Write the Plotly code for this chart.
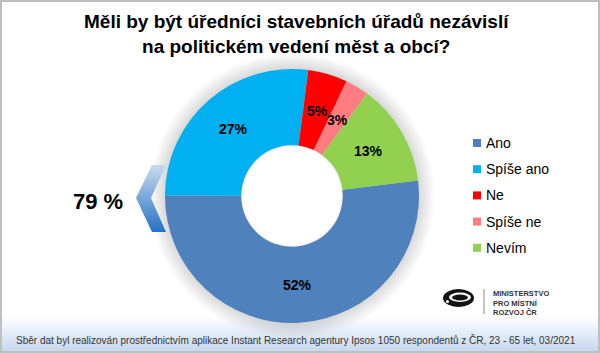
import numpy as np
import plotly.graph_objects as go

# ---------------- data ----------------
title_text = "Měli by být úředníci stavebních úřadů nezávislí<br>na politickém vedení měst a obcí?"
categories = ["Ano", "Spíše ano", "Ne", "Spíše ne", "Nevím"]
values = [52, 27, 5, 3, 13]
colors = ["#4F81BD", "#00B0F0", "#FF0000", "#FF7C80", "#92D050"]
summary_label = "79 %"
footer_text = ("Sběr dat byl realizován prostřednictvím aplikace Instant Research agentury "
               "Ipsos 1050 respondentů z ČR, 23 - 65 let, 03/2021")
logo_lines = ["MINISTERSTVO", "PRO MÍSTNÍ", "ROZVOJ ČR"]

# ---------------- layout constants ----------------
W, H = 600, 353
CX, CY, R = 292, 196, 127
HOLE = 0.40
ROT = 83
FONT = "Arial, 'Liberation Sans', sans-serif"

fig = go.Figure()

# footer gradient band
fig.add_trace(go.Scatter(
    x=[0, W, W, 0, 0], y=[316, 316, H, H, 316], fill="toself", mode="none",
    fillgradient=dict(type="vertical", start=316, stop=H,
                      colorscale=[[0, "#FFFFFF"], [1, "#C3D6EE"]]),
    hoverinfo="skip", showlegend=False))

# soft shadow around donut
t = np.linspace(0, 2 * np.pi, 241)
SR = 143
fig.add_trace(go.Scatter(
    x=CX + SR * np.cos(t), y=CY + SR * np.sin(t), fill="toself", mode="none",
    fillgradient=dict(type="radial", colorscale=[
        [0, "rgba(0,0,0,0)"], [0.34, "rgba(0,0,0,0)"], [0.37, "rgba(0,0,0,0.16)"],
        [0.88, "rgba(0,0,0,0.16)"], [1, "rgba(0,0,0,0)"]]),
    hoverinfo="skip", showlegend=False))

# chevron
chev_x = [152, 166, 151, 166, 152, 136, 152]
chev_y = [165, 165, 198, 232, 232, 198, 165]
fig.add_trace(go.Scatter(
    x=chev_x, y=chev_y, fill="toself", mode="none",
    fillgradient=dict(type="vertical", start=165, stop=232,
                      colorscale=[[0, "#C9DBEF"], [1, "#2572C3"]]),
    hoverinfo="skip", showlegend=False))

# donut
fig.add_trace(go.Pie(
    labels=categories, values=values, sort=False, direction="clockwise",
    rotation=ROT, hole=HOLE, textinfo="none", hoverinfo="skip", showlegend=False,
    marker=dict(colors=colors, line=dict(width=0)),
    domain=dict(x=[(CX - R) / W, (CX + R) / W], y=[(H - CY - R) / H, (H - CY + R) / H])))

annotations = []
shapes = []

# slice labels
total = sum(values)
cum = 0
r_lab = R * (1 + HOLE) / 2
for v in values:
    mid = np.deg2rad(ROT + (cum + v / 2) / total * 360)
    cum += v
    annotations.append(dict(
        x=CX + r_lab * np.sin(mid), y=CY - r_lab * np.cos(mid), xref="x", yref="y",
        text=f"<b>{v}%</b>", showarrow=False, font=dict(family=FONT, size=14, color="#000000")))

# legend
for i, (lab, col) in enumerate(zip(categories, colors)):
    yy = 143 + i * 26.2
    shapes.append(dict(type="rect", xref="x", yref="y", x0=473, x1=481, y0=yy - 4, y1=yy + 4,
                       fillcolor=col, line=dict(width=0)))
    annotations.append(dict(x=484, y=yy, xref="x", yref="y", xanchor="left", yanchor="middle",
                            text=lab, showarrow=False, font=dict(family=FONT, size=14, color="#000000")))

# title
annotations.append(dict(x=296, y=34, xref="x", yref="y", text=f"<b>{title_text}</b>",
                        showarrow=False, font=dict(family=FONT, size=19, color="#000000")))
# summary
annotations.append(dict(x=98, y=201, xref="x", yref="y", text=f"<b>{summary_label}</b>",
                        showarrow=False, font=dict(family=FONT, size=22, color="#000000")))
# footer
annotations.append(dict(x=296, y=340, xref="x", yref="y", text=footer_text,
                        showarrow=False, font=dict(family=FONT, size=10, color="#333333")))
# logo text
for i, ln in enumerate(logo_lines):
    annotations.append(dict(x=491, y=293.5 + i * 9.5, xref="x", yref="y", xanchor="left",
                            text=f"<b>{ln}</b>", showarrow=False,
                            font=dict(family=FONT, size=7.5, color="#333333")))

# logo graphic
shapes += [
    dict(type="circle", xref="x", yref="y", x0=443, x1=474, y0=289, y1=307,
         fillcolor="#111111", line=dict(width=0)),
    dict(type="circle", xref="x", yref="y", x0=449, x1=471, y0=292.5, y1=302,
         fillcolor="#FFFFFF", line=dict(width=0)),
    dict(type="circle", xref="x", yref="y", x0=452, x1=468, y0=294.5, y1=300.5,
         fillcolor="#111111", line=dict(width=0)),
    dict(type="circle", xref="x", yref="y", x0=446, x1=449, y0=300, y1=303,
         fillcolor="#FFFFFF", line=dict(width=0)),
    dict(type="line", xref="x", yref="y", x0=484, x1=484, y0=289, y1=314,
         line=dict(color="#888888", width=1)),
    # frame
    dict(type="rect", xref="paper", yref="paper", x0=0, x1=1, y0=0, y1=1,
         line=dict(color="#BFBFBF", width=4), fillcolor="rgba(0,0,0,0)"),
]

fig.update_layout(
    width=W, height=H, margin=dict(l=0, r=0, t=0, b=0),
    paper_bgcolor="#FFFFFF", plot_bgcolor="#FFFFFF",
    xaxis=dict(range=[0, W], visible=False, fixedrange=True, domain=[0, 1]),
    yaxis=dict(range=[H, 0], visible=False, fixedrange=True, domain=[0, 1]),
    showlegend=False, annotations=annotations, shapes=shapes,
)

fig.write_html("out.html")
